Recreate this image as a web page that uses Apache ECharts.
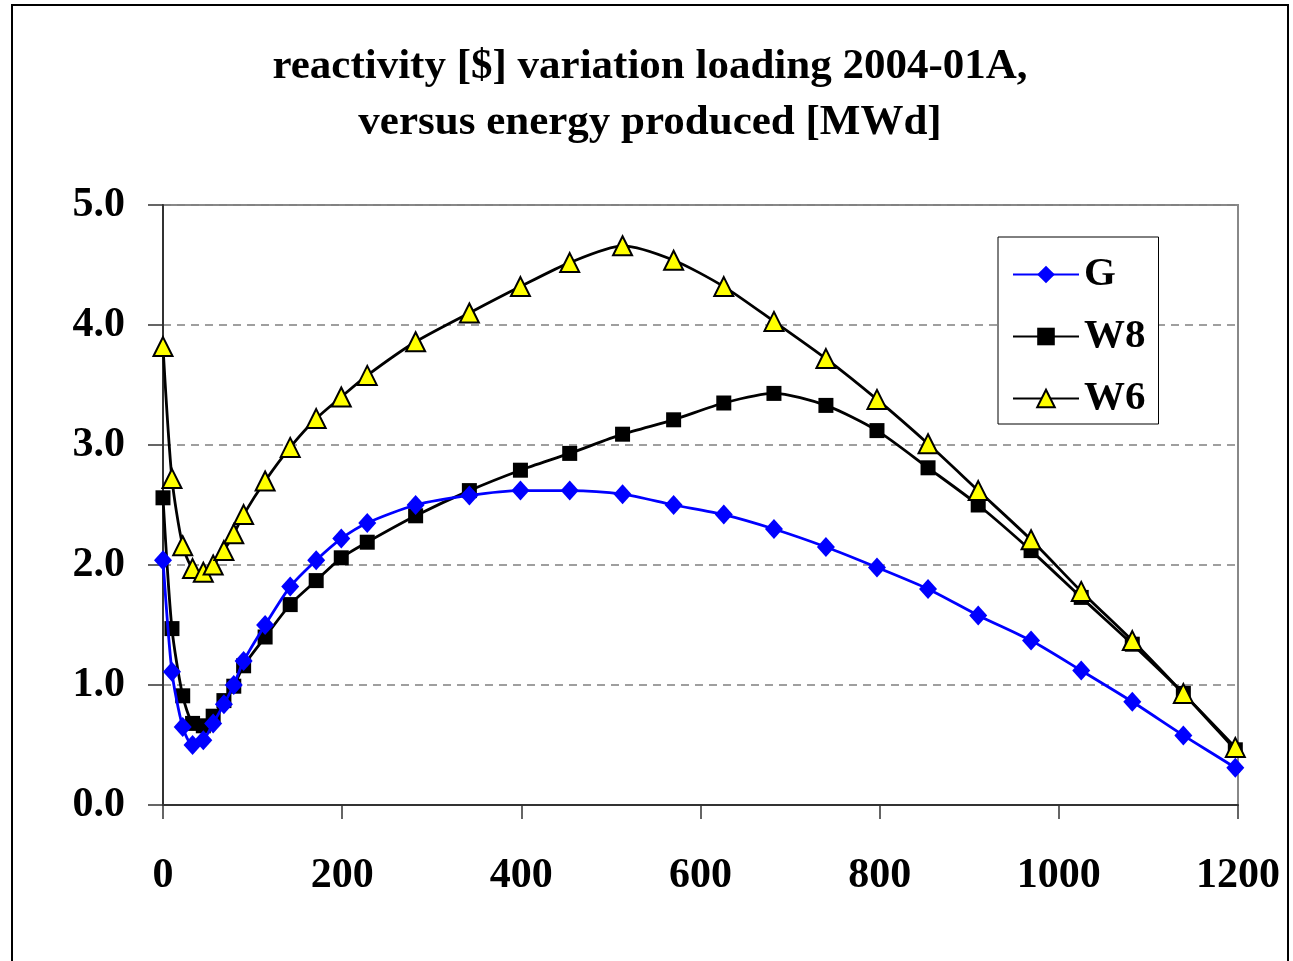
<!DOCTYPE html>
<html>
<head>
<meta charset="utf-8">
<script src="https://cdn.jsdelivr.net/npm/echarts@6/dist/echarts.min.js"></script>
<style>
  html, body { margin: 0; padding: 0; background: #fff; }
  #chart { width: 1293px; height: 961px; }
</style>
</head>
<body>
<div id="chart"></div>
<script>
// energy produced [MWd]; last entry is where the line runs past the axis end (no marker)
const energy = [0, 10, 22, 33, 45, 56, 68, 79, 90, 114, 142, 171, 199, 228, 282, 342, 399, 454, 513, 570, 626, 682, 740, 797, 854, 910, 969, 1025, 1082, 1139, 1197, 1211];
const G  = [2.04, 1.11, 0.65, 0.50, 0.54, 0.68, 0.84, 1.00, 1.20, 1.50, 1.82, 2.04, 2.22, 2.35, 2.50, 2.58, 2.62, 2.62, 2.59, 2.50, 2.42, 2.30, 2.15, 1.98, 1.80, 1.58, 1.37, 1.12, 0.86, 0.58, 0.31, 0.23];
const W8 = [2.56, 1.47, 0.91, 0.68, 0.66, 0.74, 0.87, 0.99, 1.16, 1.40, 1.67, 1.87, 2.06, 2.19, 2.41, 2.62, 2.79, 2.93, 3.09, 3.21, 3.35, 3.43, 3.33, 3.12, 2.81, 2.50, 2.12, 1.73, 1.34, 0.93, 0.46, 0.35];
const W6 = [3.82, 2.72, 2.16, 1.97, 1.94, 2.00, 2.12, 2.26, 2.42, 2.70, 2.98, 3.22, 3.40, 3.58, 3.86, 4.10, 4.32, 4.52, 4.66, 4.54, 4.32, 4.03, 3.72, 3.38, 3.01, 2.62, 2.21, 1.78, 1.37, 0.93, 0.48, 0.36];

const font = '"Liberation Serif", "Times New Roman", serif';

function pairs(ys) {
  return energy.map((x, i) => {
    const item = { value: [x, ys[i]] };
    if (i === energy.length - 1) item.symbol = 'none';
    return item;
  });
}

function lineSeries(name, ys, color, symbol, size, fill) {
  return {
    name,
    type: 'line',
    data: pairs(ys),
    smooth: 0.25,
    clip: false,
    symbol,
    symbolSize: size,
    showAllSymbol: true,
    lineStyle: { color, width: 2.8 },
    itemStyle: {
      color: fill,
      borderColor: symbol === 'triangle' ? '#000' : fill,
      borderWidth: symbol === 'triangle' ? 2 : 0
    },
    emphasis: { disabled: true },
    z: name === 'G' ? 3 : 2
  };
}

const chart = echarts.init(document.getElementById('chart'));
chart.setOption({
  animation: false,
  backgroundColor: '#fff',
  title: {
    text: 'reactivity [$] variation loading 2004-01A,\nversus energy produced [MWd]',
    left: 650,
    textAlign: 'center',
    top: 39,
    padding: 0,
    textStyle: { fontFamily: font, fontWeight: 'bold', fontSize: 43, lineHeight: 56, color: '#000' }
  },
  graphic: [{
    type: 'rect',
    shape: { x: 12, y: 5, width: 1276, height: 1000 },
    style: { fill: 'none', stroke: '#000', lineWidth: 2 },
    silent: true
  }],
  grid: {
    left: 163, right: 55, top: 205, bottom: 156,
    show: true, borderColor: '#888', borderWidth: 2, backgroundColor: 'transparent'
  },
  legend: {
    orient: 'vertical',
    left: 998,
    top: 237,
    padding: [17, 13, 5, 14],
    backgroundColor: '#fff',
    borderColor: '#000',
    borderWidth: 1,
    itemWidth: 66,
    itemHeight: 22,
    itemGap: 21,
    itemTextGap: 22,
    textStyle: { fontFamily: font, fontWeight: 'bold', fontSize: 41, lineHeight: 40, color: '#000' },
    data: ['G', 'W8', 'W6']
  },
  xAxis: {
    type: 'value',
    min: 0, max: 1200, interval: 200,
    axisLine: { show: true, lineStyle: { color: '#333', width: 2 } },
    axisTick: { show: true, inside: false, length: 14, lineStyle: { color: '#333', width: 1.5 } },
    axisLabel: { fontFamily: font, fontWeight: 'bold', fontSize: 42, color: '#000', margin: 50,
      formatter: v => String(v) },
    splitLine: { show: false }
  },
  yAxis: {
    type: 'value',
    min: 0, max: 5, interval: 1,
    axisLine: { show: true, lineStyle: { color: '#333', width: 2 } },
    axisTick: { show: true, inside: false, length: 15, lineStyle: { color: '#333', width: 1.5 } },
    axisLabel: { fontFamily: font, fontWeight: 'bold', fontSize: 42, color: '#000', margin: 38,
      formatter: v => v.toFixed(1) },
    splitLine: { show: true, lineStyle: { color: '#808080', type: [8, 6], width: 1.5 } }
  },
  series: [
    lineSeries('G', G, '#0000ff', 'diamond', [18, 20], '#0000ff'),
    lineSeries('W8', W8, '#000000', 'rect', 15, '#000000'),
    lineSeries('W6', W6, '#000000', 'triangle', 19, '#ffff00')
  ]
});
</script>
</body>
</html>
